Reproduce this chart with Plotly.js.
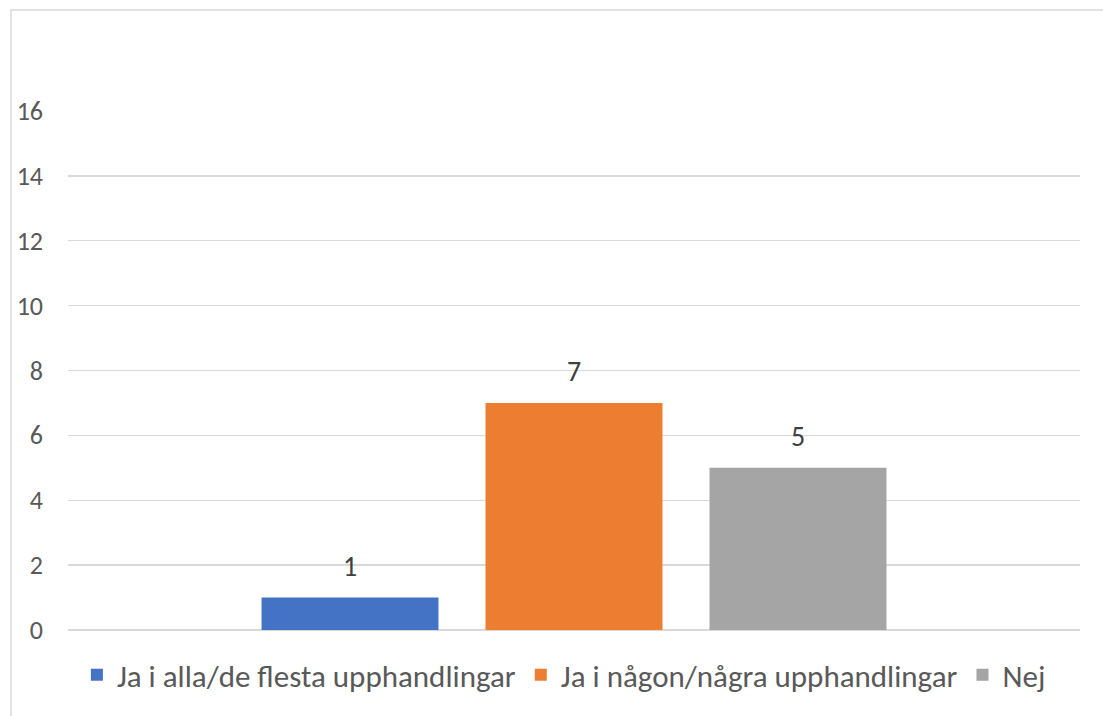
<!DOCTYPE html>
<html>
<head>
<meta charset="utf-8">
<script src="https://cdn.plot.ly/plotly-3.0.1.min.js"></script>
<style>html,body{margin:0;padding:0;background:#fff;}#chart{width:1103px;height:716px;}</style>
</head>
<body>
<div id="chart"></div>
<script>
const category = [""];
const seriesNames = ["Ja i alla/de flesta upphandlingar", "Ja i någon/några upphandlingar", "Nej"];
const seriesValues = [[1], [7], [5]];
const seriesColors = ["#4472C4", "#ED7D31", "#A5A5A5"];
const yTicks = [0, 2, 4, 6, 8, 10, 12, 14, 16];

const fontFam = "Calibri, Carlito, Lato, sans-serif";
const traces = seriesNames.map((name, i) => ({
  type: "bar",
  name: name,
  x: category,
  y: seriesValues[i],
  marker: {color: seriesColors[i]},
  text: seriesValues[i].map(v => "<span style='font-size:28px'>" + String(v) + "</span><br> "),
  textposition: "outside",
  constraintext: "none",
  textfont: {family: fontFam, size: 12, color: "#404040"},
  cliponaxis: false,
  hoverinfo: "skip"
}));

const layout = {
  width: 1103, height: 716,
  margin: {l: 68, r: 23, t: 110, b: 86},
  paper_bgcolor: "#fff", plot_bgcolor: "#fff",
  font: {family: fontFam, color: "#595959", size: 26},
  barmode: "group",
  bargap: 0.336,
  bargroupgap: 0.21,
  showlegend: true,
  legend: {orientation: "h", x: 0.49, xanchor: "center", y: -0.035, yanchor: "top",
           font: {family: fontFam, size: 31, color: "#595959"}, traceorder: "normal",
           itemwidth: 30, tracegroupgap: 0},
  xaxis: {showticklabels: false, showgrid: false, zeroline: false, showline: false, ticks: "", fixedrange: true},
  yaxis: {range: [0, 16.03], tickvals: yTicks, ticktext: yTicks.map(String), showgrid: true,
          gridcolor: "#D9D9D9", gridwidth: 1.3, zeroline: true, zerolinecolor: "#D9D9D9", zerolinewidth: 1.3,
          showline: false, ticks: "", ticklabelstandoff: 24,
          tickfont: {family: fontFam, size: 26, color: "#595959"}, fixedrange: true},
  shapes: [{
    type: "rect", xref: "paper", yref: "paper",
    x0: -57/1012, x1: 1.2, y0: -0.5, y1: 1 + 100/520,
    line: {color: "#D9D9D9", width: 1.5}, fillcolor: "rgba(0,0,0,0)", layer: "below"
  }]
};

Plotly.newPlot("chart", traces, layout, {displayModeBar: false, staticPlot: true});
</script>
</body>
</html>
